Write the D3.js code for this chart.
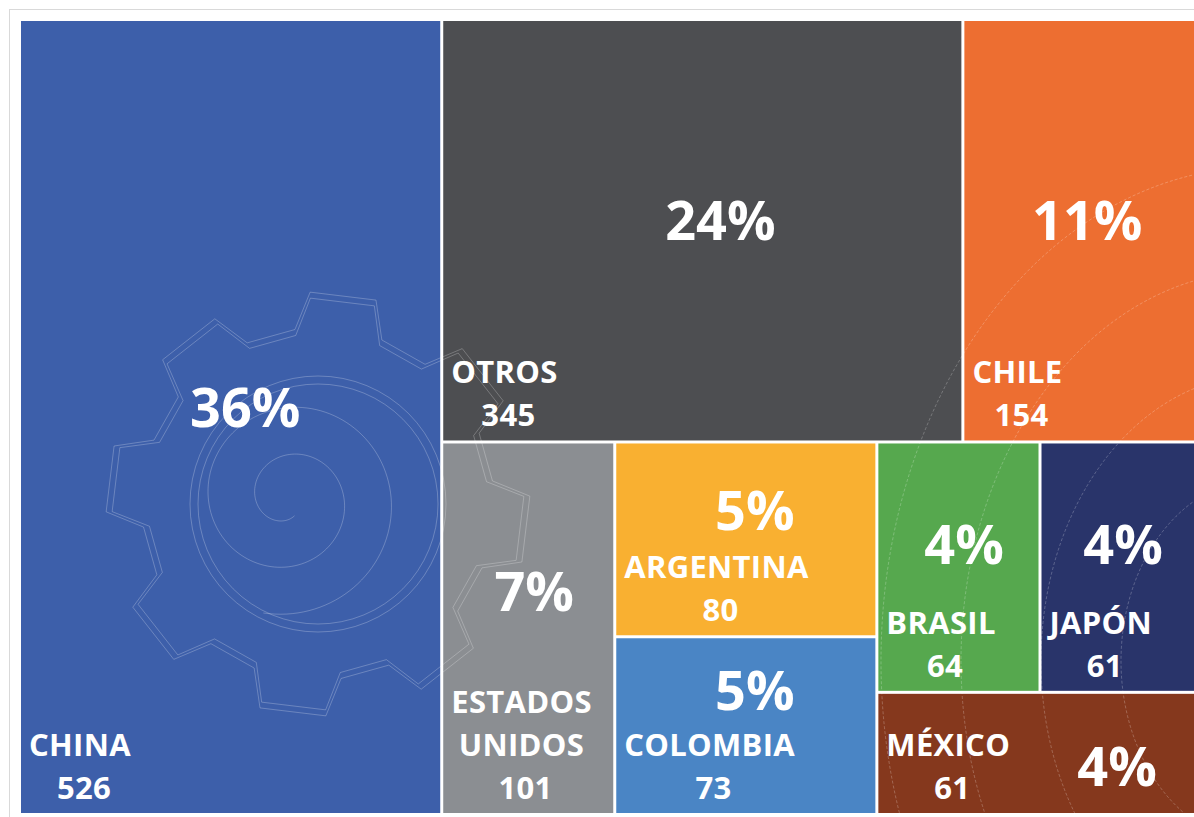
<!DOCTYPE html>
<html><head><meta charset="utf-8">
<script src="https://cdn.jsdelivr.net/npm/d3@7"></script>
<style>body{margin:0;background:#fff;} svg{display:block}</style>
</head><body>
<svg id="chart" width="1194" height="817"></svg>
<script>
// ---- data ----
const countries = ["CHINA","OTROS","CHILE","ESTADOS UNIDOS","ARGENTINA","COLOMBIA","BRASIL","JAPÓN","MÉXICO"];
const values = [526,345,154,101,80,73,64,61,61];
const colors = ["#3D5FAA","#4D4E51","#ED6E31","#8B8E92","#F9B031","#4A85C5","#56A84E","#29346A","#85381D"];

// ---- setup ----
const W = 1194, H = 817;
const svg = d3.select("#chart");
const FONT = "'Open Sans', 'Segoe UI', sans-serif";
const nameSize = 31, pctSize = 54, lineH = 43;

svg.append("rect").attr("x",9.5).attr("y",9.5).attr("width",W).attr("height",H)
  .attr("fill","#fff").attr("stroke","#d9d9d9").attr("stroke-width",1);

// squarified tiling (same algorithm as d3.treemapSquarify, but allowing a target ratio below 1)
function squarifyTile(ratio){
  return function(parent, x0, y0, x1, y1){
    const nodes = parent.children, n = nodes.length;
    let i0 = 0, i1 = 0, value = parent.value;
    while(i0 < n){
      const dx = x1-x0, dy = y1-y0;
      let sumValue, nodeValue;
      do sumValue = nodes[i1++].value; while(!sumValue && i1 < n);
      let minValue = sumValue, maxValue = sumValue;
      const alpha = Math.max(dy/dx, dx/dy)/(value*ratio);
      let beta = sumValue*sumValue*alpha;
      let minRatio = Math.max(maxValue/beta, beta/minValue);
      for(; i1 < n; ++i1){
        sumValue += nodeValue = nodes[i1].value;
        if(nodeValue < minValue) minValue = nodeValue;
        if(nodeValue > maxValue) maxValue = nodeValue;
        beta = sumValue*sumValue*alpha;
        const newRatio = Math.max(maxValue/beta, beta/minValue);
        if(newRatio > minRatio){ sumValue -= nodeValue; break; }
        minRatio = newRatio;
      }
      const row = {value: sumValue, children: nodes.slice(i0, i1)};
      if(dx < dy) d3.treemapDice(row, x0, y0, x1, value ? y0 += dy*sumValue/value : y1);
      else d3.treemapSlice(row, x0, y0, value ? x0 += dx*sumValue/value : x1, y1);
      value -= sumValue; i0 = i1;
    }
  };
}

const x0 = 21, y0 = 21, x1 = 1194, y1 = 813;
const rows = countries.map((c,i)=>({name:c, value:values[i], color:colors[i]}));
const total = d3.sum(values);
const root = d3.hierarchy({children: rows}).sum(d=>d.value||0).sort((a,b)=>b.value-a.value);
d3.treemap().tile(squarifyTile(0.89)).size([x1-x0, y1-y0]).paddingInner(3)(root);

const g = svg.append("g").attr("transform",`translate(${x0},${y0})`);
const leaves = root.leaves();

g.selectAll("rect.tile").data(leaves).join("rect").attr("class","tile")
  .attr("x",d=>d.x0).attr("y",d=>d.y0)
  .attr("width",d=>d.x1-d.x0).attr("height",d=>d.y1-d.y0)
  .attr("fill",d=>d.data.color);

// ---- faint watermark (gear + spiral + contours) ----
const deco = g.append("g").attr("fill","none").attr("stroke","#fff").attr("stroke-opacity",0.3).attr("stroke-width",0.8);
function gearPath(cx, cy, rOut, rIn, teeth, rot){
  const pts=[]; const n=teeth;
  for(let i=0;i<n;i++){
    const a=rot+i*2*Math.PI/n, s=2*Math.PI/n;
    pts.push([a-s*0.32,rIn],[a-s*0.2,rOut],[a+s*0.2,rOut],[a+s*0.32,rIn]);
  }
  return d3.line().curve(d3.curveLinearClosed)(pts.map(([a,r])=>[cx+r*Math.sin(a), cy-r*Math.cos(a)]));
}
const gc = [297, 483];
deco.append("path").attr("d",gearPath(gc[0],gc[1],212,176,8,0.12));
deco.append("path").attr("d",gearPath(gc[0],gc[1],206,170,8,0.12));
deco.append("circle").attr("cx",gc[0]).attr("cy",gc[1]).attr("r",120);
deco.append("circle").attr("cx",gc[0]).attr("cy",gc[1]).attr("r",128);
const spiral = d3.range(0, 4.2*Math.PI, 0.05).map(t=>{const r=18+7.5*t; return [gc[0]-30+r*Math.cos(t+1.2), gc[1]-5+r*Math.sin(t+1.2)];});
deco.append("path").attr("d",d3.line().curve(d3.curveBasis)(spiral));
[140,220,300,380].forEach(r=>{
  deco.append("ellipse").attr("cx",1240).attr("cy",640).attr("rx",r).attr("ry",r*1.3).attr("stroke-dasharray","3,2");
});

// ---- labels ----
const labels = g.append("g").attr("font-family",FONT).attr("font-weight",700).attr("fill","#fff");
const capName = 0.714*nameSize, capPct = 0.714*pctSize;
const fmt = d3.format(".0%");

leaves.forEach(d=>{
  const w = d.x1-d.x0;
  const lg = labels.append("g");
  const mk = t => lg.append("text").attr("font-size",nameSize).attr("letter-spacing",0.3).text(t);
  const tmp = mk(d.data.name);
  let nameLines = [d.data.name];
  if(tmp.node().getComputedTextLength() > w-18) nameLines = d.data.name.split(" ");
  tmp.remove();
  const lines = nameLines.concat([String(d.data.value)]);
  const n = lines.length;
  const widths = nameLines.map(t=>{const e=mk(t); const l=e.node().getComputedTextLength(); e.remove(); return l;});
  const blockW = d3.max(widths);
  const bcx = d.x0 + 8 + blockW/2;
  const lastBase = d.y1 - 14;
  lines.forEach((t,i)=>{
    mk(t).attr("text-anchor","middle").attr("x",bcx + (i===n-1 ? 4 : 0)).attr("y",lastBase-(n-1-i)*lineH);
  });
  const firstBase = lastBase-(n-1)*lineH;
  const nameTop = firstBase - capName;
  const space = nameTop - d.y0;
  let pcx, pcy;
  if(space >= capPct + 30){
    pcy = d.y0 + Math.min(0.6*space, 0.5*space + 30, space - 24 - capPct/2);
    pcx = (d.x0+d.x1)/2 + 0.035*w;
  } else {
    pcy = (nameTop + lastBase)/2;
    pcx = (d.x0 + 8 + blockW + d.x1)/2 + 15;
  }
  lg.append("text").attr("font-size",pctSize).attr("text-anchor","middle")
    .attr("x",pcx).attr("y",pcy+capPct/2).text(fmt(d.data.value/total));
});
</script>
</body></html>
